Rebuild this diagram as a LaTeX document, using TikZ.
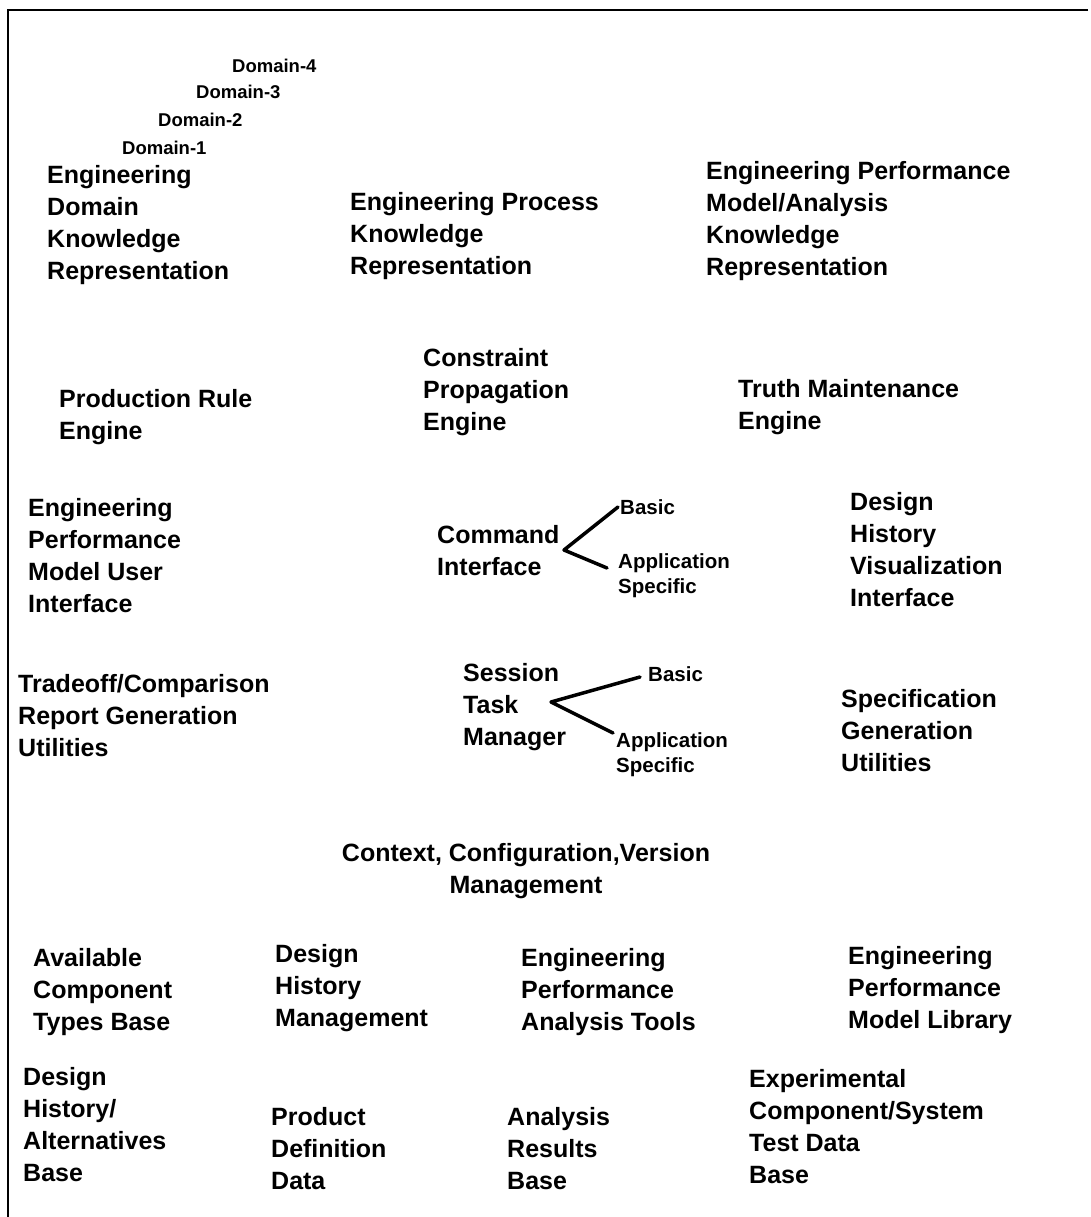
\documentclass[tikz,border=0pt]{standalone}
\usepackage{fontspec}
\setmainfont{Liberation Sans}
\begin{document}
\begin{tikzpicture}[x=1pt,y=-1pt,
  lbl/.style={anchor=west,inner sep=0pt,align=left,font=\fontsize{25}{32}\selectfont\bfseries},
  midlbl/.style={anchor=center,inner sep=0pt,align=center,font=\fontsize{25}{32}\selectfont\bfseries},
  sub/.style={anchor=west,inner sep=0pt,align=left,font=\fontsize{20.5}{25}\selectfont\bfseries},
  dom/.style={anchor=west,inner sep=0pt,font=\fontsize{18.5}{22}\selectfont\bfseries},
  branch/.style={line width=3.5pt,line cap=round,line join=round}]
\useasboundingbox (0,0) rectangle (1090,1217);
% open frame: top and left edges only
\draw[line width=2pt] (1088,10) -- (8,10) -- (8,1217);

% knowledge representation layer
\node[dom] (d4) at (232,66) {Domain-4};
\node[dom] (d3) at (196,92) {Domain-3};
\node[dom] (d2) at (158,120) {Domain-2};
\node[dom] (d1) at (122,148) {Domain-1};
\node[lbl] (edkr) at (47,225) {Engineering\\Domain\\Knowledge\\Representation};
\node[lbl] (epkr) at (350,236) {Engineering Process\\Knowledge\\Representation};
\node[lbl] (epma) at (706,221) {Engineering Performance\\Model/Analysis\\Knowledge\\Representation};

% engines
\node[lbl] (pre) at (59,417) {Production Rule\\Engine};
\node[lbl] (cpe) at (423,392) {Constraint\\Propagation\\Engine};
\node[lbl] (tme) at (738,407) {Truth Maintenance\\Engine};

% interfaces
\node[lbl] (epmu) at (28,556) {Engineering\\Performance\\Model User\\Interface};
\node[lbl] (ci) at (437,551) {Command\\Interface};
\node[sub] (cib) at (620,507) {Basic};
\node[sub] (cia) at (618,576) {Application\\Specific};
\node[lbl] (dhvi) at (850,550) {Design\\History\\Visualization\\Interface};

% utilities and session management
\node[lbl] (tcrg) at (18,716) {Tradeoff/Comparison\\Report Generation\\Utilities};
\node[lbl] (stm) at (463,707) {Session\\Task\\Manager};
\node[sub] (stb) at (648,674) {Basic};
\node[sub] (sta) at (616,755) {Application\\Specific};
\node[lbl] (sgu) at (841,731) {Specification\\Generation\\Utilities};

\node[midlbl] (ccvm) at (526,871) {Context, Configuration,Version\\Management};

% bases and tools
\node[lbl] (actb) at (33,992) {Available\\Component\\Types Base};
\node[lbl] (dhm) at (275,988) {Design\\History\\Management};
\node[lbl] (epat) at (521,992) {Engineering\\Performance\\Analysis Tools};
\node[lbl] (epml) at (848,990) {Engineering\\Performance\\Model Library};
\node[lbl] (dhab) at (23,1125) {Design\\History/\\Alternatives\\Base};
\node[lbl] (pdd) at (271,1149) {Product\\Definition\\Data};
\node[lbl] (arb) at (507,1149) {Analysis\\Results\\Base};
\node[lbl] (ecst) at (749,1127) {Experimental\\Component/System\\Test Data\\Base};

% branch marks
\coordinate (civ) at (564,550);
\coordinate (stv) at (551,702);
\draw[branch] (cib.west) ++(-2,0) coordinate (cibe) -- (civ) -- (607,568) coordinate (ciae);
\draw[branch] (640,677) coordinate (stbe) -- (stv) -- (613,733) coordinate (stae);
\end{tikzpicture}
\end{document}
